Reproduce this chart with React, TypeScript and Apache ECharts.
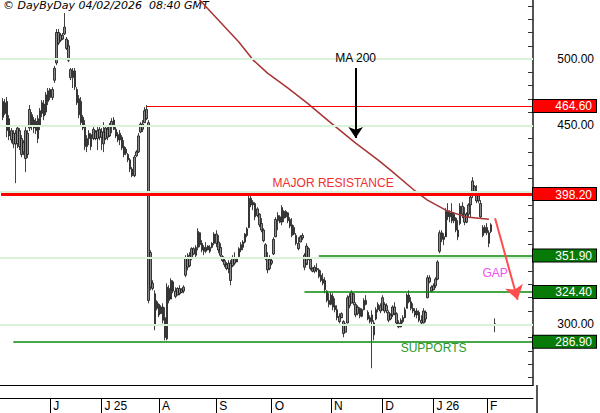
import React, { useEffect, useRef } from 'react';
import * as echarts from 'echarts';

// ---- data ----
const SLOT_COUNT = 260;
const FIRST_BAR_INDEX = 1;
const monthIndex = [24, 49, 77, 105, 132, 161, 186, 211, 237];
const monthText = ['J', 'J 25', 'A', 'S', 'O', 'N', 'D', 'J 26', 'F'];

const opens = [468,459,468,455,446,444,444,436,446,440,430,446,428,448,458,448,453,440,450,459,
466,460,468,477,471,484,497,520,514,518,519,515,510,492,486,491,477,470,468,456,
450,434,440,443,440,445,440,447,441,445,440,447,442,449,454,447,443,439,441,434,
432,428,424,417,412,427,430,445,451,452,462,452,354,331,323,312,315,308,313,305,
289,327,319,332,325,322,327,324,325,337,350,344,350,357,352,358,369,361,355,358,
356,358,358,361,368,362,358,351,348,345,342,346,344,350,347,351,356,358,362,367,
373,395,390,391,382,383,376,371,360,350,342,348,353,366,378,381,377,385,381,384,
379,375,368,367,361,362,365,352,345,357,349,342,340,342,341,337,334,333,325,318,
315,321,314,311,306,305,302,294,301,321,316,323,315,308,312,306,311,318,309,305,
302,301,304,311,314,311,315,310,309,304,307,313,308,301,298,302,305,312,322,317,
312,310,307,309,303,301,309,320,335,328,326,329,334,355,369,364,366,385,381,384,
378,380,371,376,389,383,377,383,390,397,404,399,393,391,373,369,373,369,370];
const closes = [456,467,446,442,439,436,436,448,434,428,437,425,444,462,449,454,446,455,461,467,
457,473,476,471,477,493,520,512,518,515,524,508,499,486,491,479,467,458,452,448,
434,440,444,434,447,440,446,441,445,436,448,441,450,453,447,442,439,444,433,428,
429,424,417,412,426,430,442,451,447,461,455,318,328,327,300,317,307,313,303,290,
328,318,333,325,321,327,323,326,328,350,343,352,357,353,358,370,360,356,358,355,
359,355,361,368,361,356,352,348,345,342,346,333,350,346,350,357,360,362,368,372,
395,390,392,381,387,375,371,363,350,341,349,346,364,379,382,377,388,380,385,378,
374,367,373,361,357,366,367,343,359,350,342,340,343,341,336,333,331,326,318,315,
322,313,311,305,302,308,293,299,320,314,324,316,307,313,306,311,318,315,304,302,
307,292,311,315,310,320,310,314,303,307,313,308,301,298,303,305,311,322,317,312,
310,307,310,303,301,310,304,335,332,325,329,334,347,369,364,366,385,381,384,378,
383,371,366,389,383,377,383,390,396,408,399,393,397,381,367,373,369,361,375];
const lows = [453.9,457.7,441.1,438.8,436.6,432.8,406.4,432.8,431.3,426,427.5,414.7,425.3,445.6,446.4,444.1,443.4,436.6,446.4,456.2,
453.9,457.7,465.3,469,469,481.9,495.4,510.5,512.8,514.3,518.1,506.8,497.7,484.1,478.1,476.6,465.3,455.4,450.2,446.4,
431.3,429.8,435.1,431.3,438.8,438.8,431.3,438.8,431.3,429.8,438.8,438.8,441.1,444.1,446.4,440.4,437.3,435.1,431.3,426,
427.5,422.2,414.7,410.9,410.9,426,429.1,444.1,444.9,451.7,453.9,315.8,325.6,325.6,295.5,310.5,305.3,308.3,300.7,287.9,
287.9,315.8,320.4,323.4,319.6,321.9,321.9,323.4,323.4,335.5,340.7,343,348.3,352.1,349.8,355.8,358.1,354.3,352.1,353.6,
355.8,353.6,357.3,359.6,358.1,353.6,350.5,346.8,343,340.7,338.5,329.4,343,344.5,346.8,350.5,354.3,355.8,361.1,365.6,
372.4,388.3,386,378.5,380.7,373.2,369.4,361.9,348.3,338.5,340.7,344.5,352.1,365.6,370.9,376.2,374.7,377,380,376.2,
372.4,365.6,367.2,359.6,355.8,361.9,363.4,340.7,346,348.3,340.7,339.2,338.5,339.2,334.7,331.7,329.4,323.4,316.6,312.8,
314.3,310.5,309,303,300.7,304.5,290.2,294,300.7,312.1,315.8,314.3,305.3,306.8,304.5,305.3,310.5,314.3,303,300.7,
266.8,287.9,303,309,308.3,310.5,308.3,308.3,301.5,303,305.3,306.8,299.2,297,297.7,300.7,304.5,312.1,315.8,310.5,
308.3,305.3,304.5,301.5,299.2,300.7,301.5,319.6,330.9,324.1,325.6,327.2,333.2,353.6,361.9,359.6,369.4,378.5,377,376.2,
376.2,369.4,363.4,374.7,380,374.7,376.2,380.7,380.7,395.1,397.3,391.3,391.3,380,365.6,368.7,367.2,358.1,368.7];
const highs = [470.5,469.8,471.3,457.7,447.9,446.4,446.4,450.2,447.9,442.6,438.8,448.7,446.4,465.3,460,456.2,455.4,457.7,463,469,
469,475.1,478.1,478.1,478.8,494.7,522.6,522.6,519.6,519.6,534.7,516.6,514.3,493.2,493.2,493.2,478.8,472.8,471.3,457.7,
453.9,442.6,446.4,444.1,448.7,446.4,448.7,450.2,447.9,452.4,450.2,448.7,451.7,455.4,456.2,448.7,444.9,446.4,442.6,438.8,
433.6,429.1,425.3,418.5,427.5,431.3,444.1,452.4,453.9,463.7,465.3,453.9,355.8,333.2,325.6,318.1,315.8,314.3,315.8,312.8,
330.9,329.4,334.7,333.2,327.9,327.9,329.4,327.2,329.4,352.1,353.6,354.3,358.1,358.1,359.6,372.4,369.4,363.4,359.6,361.9,
359.6,359.6,361.9,369.4,370.9,367.2,361.1,352.1,350.5,346.8,348.3,348.3,352.1,354.3,350.5,358.1,361.9,363.4,368.7,373.2,
397.3,398.8,393.6,392,388.3,383.8,380,372.4,361.1,354.3,352.1,350.5,365.6,380.7,384.5,382.2,389.8,386,386,384.5,
380.7,380,374.7,368.7,365.6,367.2,368.7,353.6,361.1,358.1,350.5,343,344.5,346,342.3,340.7,338.5,335.5,325.6,323.4,
324.1,323.4,319.6,314.3,308.3,309,303,300.7,321.9,323.4,325.6,323.4,316.6,314.3,312.8,312.1,319.6,321.9,310.5,306.8,
310.5,303,312.8,316.6,315.8,321.9,316.6,315.8,310.5,308.3,314.3,316.6,309,303,304.5,306.8,312.8,323.4,325.6,320.4,
315.8,312.1,312.1,310.5,306.8,312.1,310.5,337,337,329.4,330.9,335.5,348.3,370.9,370.9,368.7,387.5,391.3,386,391.3,
384.5,380.7,378.5,391.3,392,388.3,384.5,391.3,398.8,410.9,404.9,404.9,398.8,393.6,374.7,374.7,376.2,370.9,376.2];

// isolated bar to the right of the last session
const extraBar = { index: 241, open: 299.6, close: 300.4, low: 294, high: 304.5 };

// 200-day moving average, read at sample positions
const maIndex = [96, 106, 116, 123, 130, 140, 150, 160, 173, 184, 190, 202, 208, 217, 227, 238];
const maValue = [546, 529.4, 512.8, 499.2, 489.4, 478.1, 466, 453, 436.6, 423.8, 416.2, 400.5, 393.6, 386, 380.8, 379.2];

const gridLevels = [300, 350, 400, 450, 500];
const axisLabelValues = [300, 350, 450, 500];
const yTickValues = [260, 270, 280, 290, 300, 310, 320, 330, 340, 350, 360, 370, 380, 390, 400, 410, 420, 430, 440, 450, 460, 470, 480, 490, 500, 510, 520, 530, 540];
const levelValues = [464.6, 398.2, 351.9, 324.4, 286.9];
const levelStart = [71, 0, 155, 148, 6];
const levelKind = ['r', 'r', 'g', 'g', 'g'];

const Y_MIN = 254.2;
const Y_MAX = 544.5;
const FONT = '"Liberation Sans", Arial, Helvetica, sans-serif';

export default function App() {
  const ref = useRef<HTMLDivElement>(null);

  useEffect(() => {
    if (!ref.current) return;
    const chart = echarts.init(ref.current, undefined, { renderer: 'svg' });

    const slots = Array.from({ length: SLOT_COUNT }, (_, i) => 's' + i);
    const candleData = opens.map((o, k) => [FIRST_BAR_INDEX + k, o, closes[k], lows[k], highs[k]]);
    candleData.push([extraBar.index, extraBar.open, extraBar.close, extraBar.low, extraBar.high]);

    const maData: (number | null)[] = Array.from({ length: SLOT_COUNT }, () => null);
    maIndex.forEach((idx, k) => { maData[idx] = maValue[k]; });

    const isMonth = (i: number) => monthIndex.indexOf(i) >= 0;
    const last = SLOT_COUNT - 1;
    const red = '#ff0000';
    const green = '#0a8a0a';

    const levelLines: any[] = levelValues.map((v, k) => {
      const ls = levelKind[k] === 'r'
        ? { color: red, width: k === 1 ? 3 : 1, type: 'solid' }
        : { color: green, width: 1.6, type: 'solid' };
      return [{ coord: [levelStart[k], v], lineStyle: ls }, { coord: [last, v] }];
    });

    const option: any = {
      animation: false,
      backgroundColor: '#ffffff',
      textStyle: { fontFamily: FONT },
      grid: { left: 0, right: 63, top: 0, bottom: 28, containLabel: false },
      graphic: [
        {
          type: 'text', left: 3, top: 0,
          style: { text: '\u00a9 DayByDay 04/02/2026  08:40 GMT', font: 'italic 11px "DejaVu Sans", sans-serif', fill: '#000' },
        },
        {
          type: 'line', shape: { x1: 537, y1: 385, x2: 537, y2: 413 },
          style: { stroke: '#555', lineWidth: 2 },
        },
      ],
      xAxis: [
        {
          type: 'category', data: slots, position: 'bottom',
          axisLine: { show: true, lineStyle: { color: '#000', width: 1 } },
          axisTick: { show: false }, axisLabel: { show: false }, splitLine: { show: false },
        },
        {
          type: 'category', data: slots, position: 'bottom', offset: 13,
          axisLine: { show: true, lineStyle: { color: '#000', width: 1 } },
          axisTick: {
            show: true, alignWithLabel: true, length: 15,
            interval: (i: number) => isMonth(i), lineStyle: { color: '#000', width: 1 },
          },
          axisLabel: {
            show: true, interval: (i: number) => isMonth(i),
            formatter: (_v: string, i: number) => { const m = monthIndex.indexOf(i); return m >= 0 ? monthText[m] : ''; },
            align: 'left', padding: [0, 0, 0, 3], margin: 2, color: '#000', fontSize: 12, fontFamily: FONT,
          },
          splitLine: { show: false },
        },
      ],
      yAxis: [
        {
          type: 'value', position: 'right', min: Y_MIN, max: Y_MAX,
          axisLine: { show: true, lineStyle: { color: '#555', width: 2 } },
          axisTick: { show: true, inside: true, length: 5, customValues: yTickValues, lineStyle: { color: '#333' } },
          axisLabel: {
            show: true, customValues: axisLabelValues, formatter: (v: number) => v.toFixed(2),
            align: 'right', margin: 61, color: '#000', fontSize: 12, fontFamily: FONT,
          },
          splitLine: { show: false },
        },
        {
          type: 'value', position: 'right', min: Y_MIN, max: Y_MAX, z: 5,
          axisLine: { show: false }, axisTick: { show: false }, splitLine: { show: false },
          axisLabel: {
            show: true, customValues: levelValues, margin: 0, align: 'left',
            formatter: (v: number) => {
              const k = levelValues.findIndex((x) => Math.abs(x - v) < 0.01);
              const kind = k >= 0 ? levelKind[k] : 'g';
              return '{' + kind + '|' + v.toFixed(2) + '}';
            },
            rich: {
              r: { color: '#fff', backgroundColor: red, borderColor: '#000', borderWidth: 1, width: 57, height: 11, lineHeight: 11, align: 'right', padding: [1, 4, 0, 2], fontSize: 12, fontFamily: FONT },
              g: { color: '#fff', backgroundColor: '#087a08', borderColor: '#000', borderWidth: 1, width: 57, height: 11, lineHeight: 11, align: 'right', padding: [1, 4, 0, 2], fontSize: 12, fontFamily: FONT },
            },
          },
        },
      ],
      series: [
        {
          name: 'grid', type: 'line', data: [], z: 1, silent: true,
          markLine: {
            silent: true, symbol: ['none', 'none'], label: { show: false },
            lineStyle: { color: '#d9f2d9', width: 2, type: 'solid' },
            data: gridLevels.map((v) => ({ yAxis: v })),
          },
        },
        {
          name: 'price', type: 'candlestick', data: candleData, encode: { x: 0, y: [1, 2, 3, 4] },
          barWidth: 2, z: 3,
          itemStyle: { color: '#8a8a8a', color0: '#8a8a8a', borderColor: '#111', borderColor0: '#111', borderWidth: 0.8 },
        },
        {
          name: 'MA 200', type: 'line', data: maData, connectNulls: true, showSymbol: false, symbol: 'none',
          lineStyle: { color: '#a83434', width: 1.5 }, z: 4, silent: true,
        },
        {
          name: 'levels', type: 'line', data: [], z: 5, silent: true,
          markLine: { silent: true, symbol: ['none', 'none'], label: { show: false }, data: levelLines },
        },
        {
          name: 'maArrow', type: 'line', data: [], z: 6, silent: true,
          markLine: {
            silent: true, symbol: ['none', 'arrow'], symbolSize: 11,
            lineStyle: { color: '#000', width: 2, type: 'solid' },
            label: { show: true, position: 'start', formatter: 'MA 200', color: '#000', fontSize: 12, fontFamily: FONT, distance: 4 },
            data: [[{ coord: [173, 493.2] }, { coord: [173, 440.4] }]],
          },
        },
        {
          name: 'gapArrow', type: 'line', data: [], z: 6, silent: true,
          markLine: {
            silent: true, symbol: ['none', 'arrow'], symbolSize: 14,
            lineStyle: { color: '#ff4d4d', width: 2, type: 'solid' },
            label: { show: false },
            data: [[{ coord: [241, 380] }, { coord: [252, 318.5] }]],
          },
        },
        {
          name: 'notes', type: 'line', data: [], z: 7, silent: true,
          markPoint: {
            silent: true, symbol: 'circle', symbolSize: 1, itemStyle: { color: 'rgba(0,0,0,0)' },
            label: { show: true, position: 'inside', fontSize: 12, fontFamily: FONT },
            data: [
              { coord: [162, 406.4], label: { formatter: 'MAJOR RESISTANCE', color: '#f03030' } },
              { coord: [211, 281.9], label: { formatter: 'SUPPORTS', color: '#2a9a2a' } },
              { coord: [241, 338.8], label: { formatter: 'GAP', color: '#f050f0' } },
            ],
          },
        },
      ],
    };

    chart.setOption(option);
    return () => chart.dispose();
  }, []);

  return <div ref={ref} style={{ position: 'absolute', left: 0, top: 0, width: 600, height: 413, background: '#fff' }} />;
}
